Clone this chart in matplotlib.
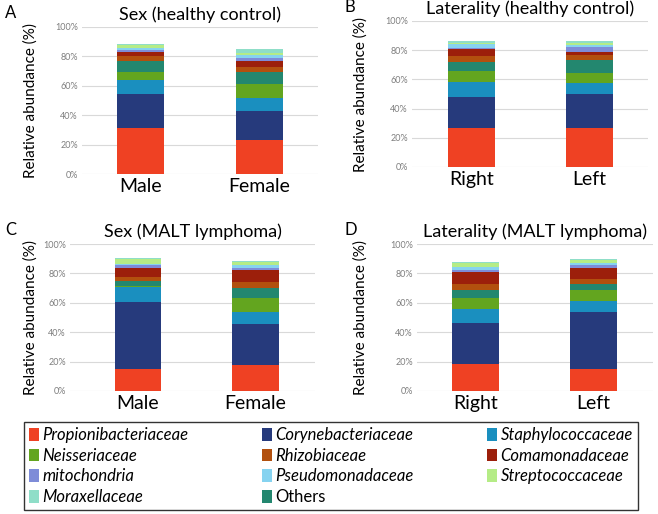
import matplotlib
matplotlib.use("Agg")
import matplotlib.pyplot as plt
from matplotlib.patches import Patch
import numpy as np

plt.rcParams['font.family'] = ['Lato', 'DejaVu Sans']

# taxa in stacking order (bottom -> top)
taxa = ['Propionibacteriaceae', 'Corynebacteriaceae', 'Staphylococcaceae',
        'Neisseriaceae', 'Others', 'Rhizobiaceae', 'Comamonadaceae',
        'mitochondria', 'Pseudomonadaceae', 'Streptococcaceae', 'Moraxellaceae']
colors = ['#EF4123', '#263A7C', '#1A8FBF', '#63A51F', '#23876F', '#B2500E',
          '#9C1F0B', '#7E8CD8', '#86D3F0', '#B5EC86', '#8FDEC8']

# legend entries, column by column (reads row-wise as in the figure)
legend_order = ['Propionibacteriaceae', 'Neisseriaceae', 'mitochondria', 'Moraxellaceae',
                'Corynebacteriaceae', 'Rhizobiaceae', 'Pseudomonadaceae', 'Others',
                'Staphylococcaceae', 'Comamonadaceae', 'Streptococcaceae']

sex_labels = ['Male', 'Female']
side_labels = ['Right', 'Left']

# relative abundance (%) per taxon, [first bar, second bar]
hc_sex = np.array([[31, 23], [23.5, 20], [9.5, 8.6], [5.5, 9.7], [7.5, 8.1],
                   [3, 3.4], [3, 4], [1.5, 2], [1.5, 2], [1.5, 1.5], [1, 2.5]])
hc_side = np.array([[27, 27], [21, 23], [10, 7.5], [8, 7], [6, 9],
                    [4, 3], [4.5, 2.5], [1, 3], [2.5, 1.5], [1, 1.5], [1.5, 1.5]])
malt_sex = np.array([[15, 17.5], [45.5, 28], [10, 8.5], [1, 9.5], [3.5, 6.5],
                     [2.5, 4], [6.5, 8.5], [1.5, 1.5], [1, 2], [3, 1.5], [0.7, 1]])
malt_side = np.array([[18.5, 15], [27.5, 38.5], [10, 7.5], [7, 7.5], [6, 4],
                      [4, 3.5], [8, 8], [1.5, 1.5], [2, 1.5], [2.5, 2], [1, 1]])

W, H = 658, 514
fig = plt.figure(figsize=(W / 100, H / 100), dpi=100)


def px_axes(left, right, top, bottom):
    return fig.add_axes([left / W, 1 - bottom / H, (right - left) / W, (bottom - top) / H])


panels = [
    ('A', 'Sex (healthy control)', sex_labels, hc_sex, (82, 318, 27, 174), (-0.49, 1.49), 5, 31),
    ('B', 'Laterality (healthy control)', side_labels, hc_side, (412, 648, 21, 167), (-0.51, 1.5), 345, 361),
    ('C', 'Sex (MALT lymphoma)', sex_labels, malt_sex, (70, 315, 244, 391), (-0.58, 1.51), 5, 31),
    ('D', 'Laterality (MALT lymphoma)', side_labels, malt_side, (417, 653, 244, 391), (-0.5, 1.51), 345, 361),
]

for letter, title, cats, data, box, xlim, letter_x, ylab_x in panels:
    ax = px_axes(*box)
    x = np.arange(len(cats))
    bottom = np.zeros(len(cats))
    for vals, c in zip(data, colors):
        ax.bar(x, vals, 0.4, bottom=bottom, color=c, zorder=3)
        bottom += vals
    ax.set_ylim(0, 100)
    ax.set_xlim(*xlim)
    ax.set_yticks(np.arange(0, 101, 20))
    ax.set_yticklabels([f'{v}%' for v in range(0, 101, 20)], fontsize=6.5, color='#7F7F7F')
    ax.set_xticks(x)
    ax.set_xticklabels(cats, fontsize=14)
    ax.tick_params(length=0, pad=3)
    ax.tick_params(axis='x', pad=3)
    ax.grid(axis='y', color='#D9D9D9', linewidth=0.8, zorder=0)
    for s in ax.spines.values():
        s.set_visible(False)
    l, r, t, b = box
    fig.text(ylab_x / W, 1 - (t + b) / 2 / H, 'Relative abundance (%)', fontsize=11,
             rotation=90, ha='center', va='center')
    ax.set_title(title, fontsize=13, pad=5)
    fig.text(letter_x / W, 1 - (t - 14) / H, letter, fontsize=12, va='center', ha='left')

handles = {t: Patch(facecolor=c, edgecolor='none') for t, c in zip(taxa, colors)}
leg = fig.legend([handles[t] for t in legend_order], legend_order, ncol=3,
                 loc='center', bbox_to_anchor=(331 / W, 1 - 466 / H),
                 fontsize=12, frameon=True, fancybox=False, edgecolor='black',
                 handlelength=0.6, handleheight=0.8, handletextpad=0.2,
                 columnspacing=4.4, labelspacing=0.28, borderpad=0.3, borderaxespad=0)
leg.get_frame().set_linewidth(1.0)
for txt in leg.get_texts():
    if txt.get_text() != 'Others':
        txt.set_fontstyle('italic')

fig.savefig('out.png', dpi=100)
